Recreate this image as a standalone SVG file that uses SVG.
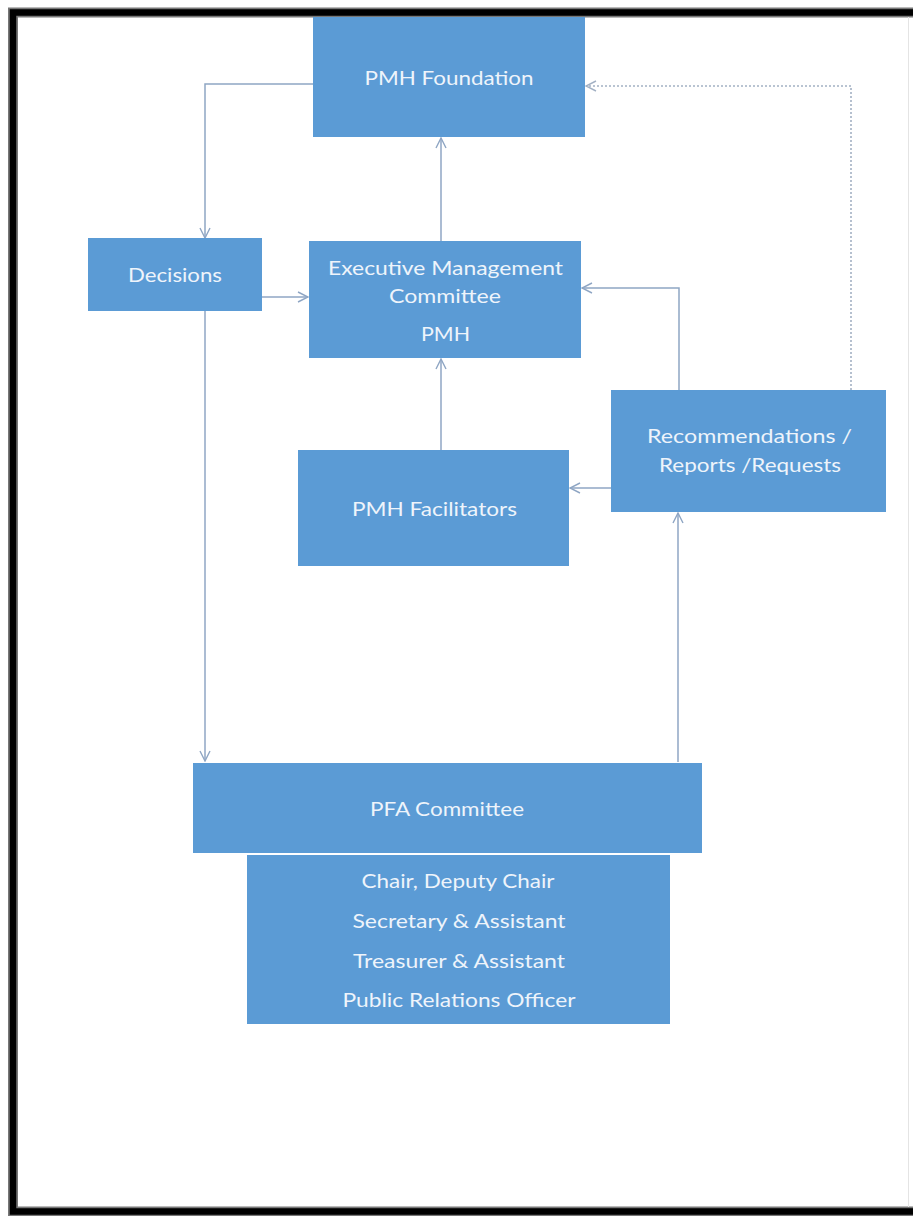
<svg xmlns="http://www.w3.org/2000/svg" width="914" height="1216" viewBox="0 0 914 1216">
  <defs>
    <marker id="arr" viewBox="0 0 12 12" refX="11" refY="6" markerWidth="12" markerHeight="12" markerUnits="userSpaceOnUse" orient="auto">
      <path d="M1,1 L11,6 L1,11" fill="none" stroke="#8FA6C4" stroke-width="1.4"/>
    </marker>
    <marker id="arrd" viewBox="0 0 12 12" refX="11" refY="6" markerWidth="12" markerHeight="12" markerUnits="userSpaceOnUse" orient="auto">
      <path d="M1,1 L11,6 L1,11" fill="none" stroke="#A3B1C4" stroke-width="1.4"/>
    </marker>
  </defs>
  <style>
    .box { fill: #5B9BD5; }
    .t { font-family: Lato, "Open Sans", "Liberation Sans", sans-serif; font-size: 19px; fill: #EEF4FB; text-anchor: middle; }
    .c { fill: none; stroke: #8FA6C4; stroke-width: 1.5; marker-end: url(#arr); }
    .d { fill: none; stroke: #A3B1C4; stroke-width: 1.6; stroke-dasharray: 2 2; marker-end: url(#arrd); }
  </style>
  <rect x="0" y="0" width="914" height="1216" fill="#ffffff"/>
  <!-- frame -->
  <g id="frame">
    <path d="M913,12.5 L13,12.5 L13,1211.5 L913,1211.5" fill="none" stroke="#777" stroke-width="10"/>
    <path d="M913,12.5 L13,12.5 L13,1211.5 L913,1211.5" fill="none" stroke="#000" stroke-width="6.5"/>
    <line x1="908.5" y1="17" x2="908.5" y2="1207" stroke="#E4E4E4" stroke-width="1"/>
  </g>

  <g id="connectors">
    <path class="c" d="M313,84 L205,84 L205,238"/>
    <path class="c" d="M262,297 L308,297"/>
    <path class="c" d="M205,311 L205,761"/>
    <path class="c" d="M441,241 L441,138"/>
    <path class="c" d="M441,450 L441,359"/>
    <path class="c" d="M679,390 L679,288 L582,288"/>
    <path class="c" d="M611,488 L570,488"/>
    <path class="c" d="M678,762 L678,513"/>
    <path class="d" d="M851,390 L851,86 L586,86"/>
  </g>

  <g id="pmh-foundation">
    <rect class="box" x="313" y="17" width="272" height="120"/>
    <text class="t" x="449" y="85" textLength="169" lengthAdjust="spacingAndGlyphs">PMH Foundation</text>
  </g>
  <g id="decisions">
    <rect class="box" x="88" y="238" width="174" height="73"/>
    <text class="t" x="175" y="282" textLength="94" lengthAdjust="spacingAndGlyphs">Decisions</text>
  </g>
  <g id="executive">
    <rect class="box" x="309" y="241" width="272" height="117"/>
    <text class="t" x="445.5" y="275" textLength="235" lengthAdjust="spacingAndGlyphs">Executive Management</text>
    <text class="t" x="445" y="303" textLength="112" lengthAdjust="spacingAndGlyphs">Committee</text>
    <text class="t" x="445.5" y="341" textLength="49" lengthAdjust="spacingAndGlyphs">PMH</text>
  </g>
  <g id="facilitators">
    <rect class="box" x="298" y="450" width="271" height="116"/>
    <text class="t" x="434.5" y="516" textLength="165" lengthAdjust="spacingAndGlyphs">PMH Facilitators</text>
  </g>
  <g id="recommendations">
    <rect class="box" x="611" y="390" width="275" height="122"/>
    <text class="t" x="749.5" y="443" textLength="205" lengthAdjust="spacingAndGlyphs">Recommendations /</text>
    <text class="t" x="750" y="472" textLength="182" lengthAdjust="spacingAndGlyphs">Reports /Requests</text>
  </g>
  <g id="pfa-committee">
    <rect class="box" x="193" y="763" width="509" height="90"/>
    <text class="t" x="447" y="816" textLength="154" lengthAdjust="spacingAndGlyphs">PFA Committee</text>
  </g>
  <g id="pfa-roles">
    <rect class="box" x="247" y="855" width="423" height="169"/>
    <text class="t" x="458" y="888" textLength="193" lengthAdjust="spacingAndGlyphs">Chair, Deputy Chair</text>
    <text class="t" x="459" y="928" textLength="213" lengthAdjust="spacingAndGlyphs">Secretary &amp; Assistant</text>
    <text class="t" x="459" y="968" textLength="212" lengthAdjust="spacingAndGlyphs">Treasurer &amp; Assistant</text>
    <text class="t" x="459" y="1007" textLength="233" lengthAdjust="spacingAndGlyphs">Public Relations Officer</text>
  </g>
</svg>
